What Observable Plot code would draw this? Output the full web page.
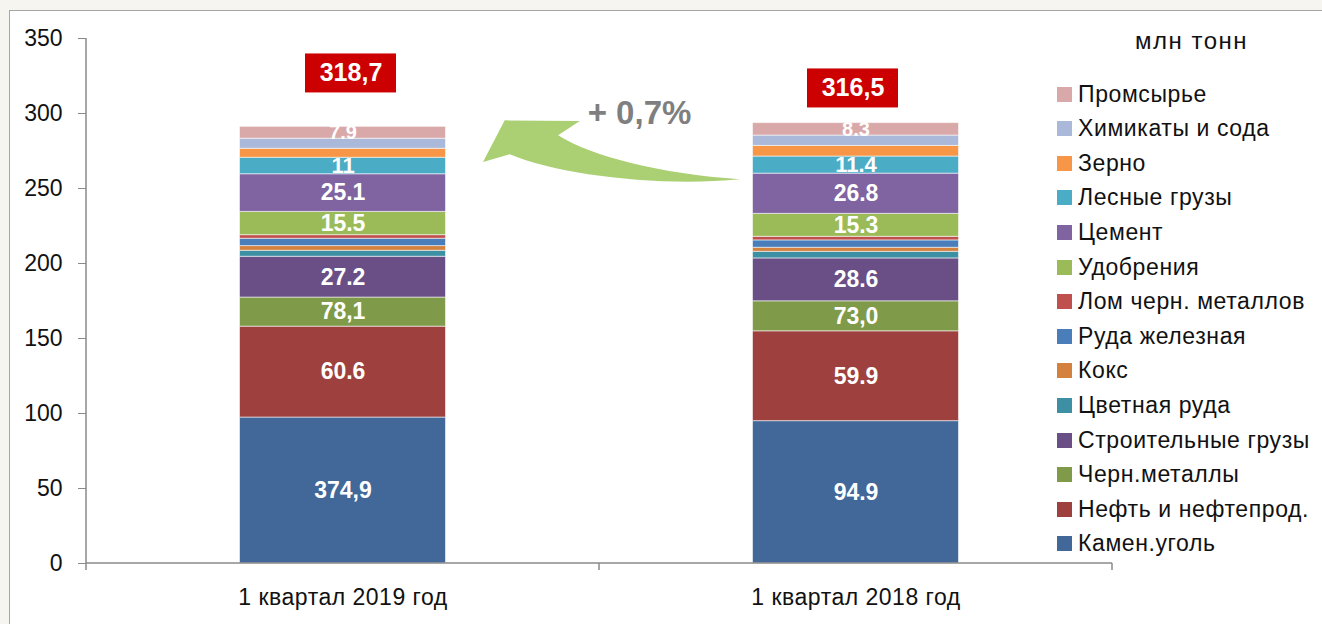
<!DOCTYPE html>
<html>
<head>
<meta charset="utf-8">
<script src="https://cdn.jsdelivr.net/npm/d3@7"></script>
<script src="https://cdn.jsdelivr.net/npm/@observablehq/plot@0.6"></script>
<style>
  html, body { margin: 0; padding: 0; background: #f6f5f0; }
  #wrap { position: relative; width: 1322px; height: 624px; overflow: hidden; font-family: "Liberation Sans", Arial, sans-serif; }
  #panel { position: absolute; left: 9px; top: 10px; width: 1400px; height: 700px; background: #fff; border: 1px solid #a6a6a6; }
  #chart { position: absolute; left: 0; top: 0; }
  #legend { position: absolute; left: 1057px; top: 0; width: 265px; height: 600px; }
  #legend .title { position: absolute; left: 78px; top: 27px; font-size: 24px; letter-spacing: 1.5px; color: #111; white-space: nowrap; }
  #legend .item { position: absolute; left: 0; height: 30px; display: flex; align-items: center; white-space: nowrap; font-size: 23px; letter-spacing: 0.6px; color: #111; }
  #legend .sw { width: 15px; height: 15px; margin-right: 6px; flex: none; }
  #chart svg g[aria-label="x-axis tick label"] text { letter-spacing: 0.5px; }
</style>
</head>
<body>
<div id="wrap">
  <div id="panel"></div>
  <div id="chart"></div>
  <div id="legend"></div>
</div>
<script>
// ---- data ----
const periods = ["1 квартал 2019 год", "1 квартал 2018 год"];
const categories = [
  "Камен.уголь", "Нефть и нефтепрод.", "Черн.металлы", "Строительные грузы",
  "Цветная руда", "Кокс", "Руда железная", "Лом черн. металлов",
  "Удобрения", "Цемент", "Лесные грузы", "Зерно", "Химикаты и сода", "Промсырье"
];
const values2019 = [97.3, 60.6, 19.4, 27.2, 4.0, 3.1, 4.9, 2.4, 15.5, 25.1, 11.0, 6.0, 6.7, 7.9];
const values2018 = [94.9, 59.9, 20.0, 28.6, 4.4, 2.7, 4.9, 2.4, 15.3, 26.8, 11.4, 7.1, 6.9, 8.3];
const labels2019 = ["374,9", "60.6", "78,1", "27.2", "", "", "", "", "15.5", "25.1", "11", "", "", "7.9"];
const labels2018 = ["94.9", "59.9", "73,0", "28.6", "", "", "", "", "15.3", "26.8", "11.4", "", "", "8.3"];
const colors = [
  "#416899", "#9e413e", "#7f9a48", "#6a4f87",
  "#3d8fa3", "#d3813d", "#4a7ebb", "#c0504d",
  "#9bbb59", "#8064a2", "#4bacc6", "#f79646", "#aab9d9", "#d9a9a9"
];
const totals = ["318,7", "316,5"];
const totalsAt = [326.7, 316.7];
const changeLabel = "+ 0,7%";
const changeAt = 300;
const yTicks = [0, 50, 100, 150, 200, 250, 300, 350];
const unitTitle = "млн тонн";

// ---- table ----
const rows = [];
[[values2019, labels2019], [values2018, labels2018]].forEach(([vals, labs], p) => {
  categories.forEach((c, i) => rows.push({period: periods[p], cat: c, value: vals[i], label: labs[i]}));
});
const totalRows = periods.map((p, i) => ({period: p, text: totals[i], y: totalsAt[i]}));

const FONT = "Liberation Sans, Arial, sans-serif";
const W = 1322, H = 624;
const mL = 86, mR = 210, mT = 38, mB = 61;
const bandW = (W - mL - mR) / 2;
const barInset = (bandW - 206) / 2;
const boxInset = (bandW - 91) / 2;

function decor(index, scales, values, dims) {
  const {width, height, marginLeft, marginRight, marginTop, marginBottom} = dims;
  const x0 = marginLeft, x1 = width - marginRight, y0 = height - marginBottom;
  const xm = (x0 + x1) / 2;
  const bw = (x1 - x0) / 2;
  const g = d3.create("svg:g");
  // arrow
  const tipX = x0 + bw / 2 + 103 + 37.5;
  const tailX = xm + bw / 2 - 103 - 12.5;
  const tipY = scales.y(267.3);
  const k = (tailX - tipX) / 256.7;
  const P = (dx, dy) => `${tipX + dx * k},${tipY + dy}`;
  const d = `M${P(0,0)} L${P(21.7,-41.7)} L${P(96.7,-41)} L${P(75,-26.7)} ` +
            `C${P(110,-5)} ${P(176.7,11.7)} ${P(256.7,17.3)} ` +
            `C${P(176.7,25)} ${P(76.7,13.3)} ${P(26.7,-7.7)} Z`;
  g.append("path").attr("d", d).attr("fill", "#abd074");
  // axis lines
  const ax = g.append("g").attr("stroke", "#8a8a8a").attr("stroke-width", 1.5);
  ax.append("line").attr("x1", x0).attr("x2", x0).attr("y1", scales.y(350)).attr("y2", y0 + 7);
  ax.append("line").attr("x1", x0).attr("x2", x1).attr("y1", y0).attr("y2", y0);
  [xm, x1].forEach(x => ax.append("line").attr("x1", x).attr("x2", x).attr("y1", y0).attr("y2", y0 + 7));
  return g.node();
}

const plot = Plot.plot({
  width: W, height: H,
  marginLeft: mL, marginRight: mR, marginTop: mT, marginBottom: mB,
  style: {background: "transparent", fontFamily: FONT},
  x: {domain: periods, padding: 0, label: null},
  y: {domain: [0, 350], label: null},
  color: {domain: categories, range: colors},
  marks: [
    Plot.barY(rows, {x: "period", y: "value", fill: "cat", z: "cat", order: null,
      insetLeft: barInset, insetRight: barInset, stroke: "#ffffff", strokeOpacity: 0.55, strokeWidth: 1}),
    Plot.text(rows, Plot.stackY({x: "period", y: "value", z: "cat", order: null, text: "label",
      fill: "white", fontWeight: "bold", fontFamily: FONT,
      fontSize: d => (d.cat === "Промсырье" ? 20 : d.cat === "Лесные грузы" ? 22 : 23)})),
    decor,
    Plot.rect(totalRows.filter((d, i) => i === 0), {x: "period", y1: d => d.y - 13, y2: d => d.y + 13,
      insetLeft: boxInset, insetRight: boxInset, dx: 8, fill: "#cc0000"}),
    Plot.rect(totalRows.filter((d, i) => i === 1), {x: "period", y1: d => d.y - 13, y2: d => d.y + 13,
      insetLeft: boxInset, insetRight: boxInset, dx: -3, fill: "#cc0000"}),
    Plot.text(totalRows.filter((d, i) => i === 0), {x: "period", y: "y", text: "text", dx: 8,
      fill: "white", fontWeight: "bold", fontSize: 25, fontFamily: FONT}),
    Plot.text(totalRows.filter((d, i) => i === 1), {x: "period", y: "y", text: "text", dx: -3,
      fill: "white", fontWeight: "bold", fontSize: 25, fontFamily: FONT}),
    Plot.text([changeLabel], {x: () => periods[1], y: () => changeAt, text: d => d, dx: -216.5,
      fill: "#7f7f7f", fontWeight: "bold", fontSize: 33, fontFamily: FONT}),
    Plot.axisY({ticks: yTicks, tickSize: 8, tickPadding: 16, stroke: "#8a8a8a", fill: "#111",
      fontSize: 23, fontFamily: FONT, label: null}),
    Plot.axisX({tickSize: 0, tickPadding: 25, fill: "#111", fontSize: 23, fontFamily: FONT, label: null})
  ]
});
document.getElementById("chart").appendChild(plot);

// ---- legend (HTML) ----
const legend = document.getElementById("legend");
const t = document.createElement("div");
t.className = "title"; t.textContent = unitTitle; legend.appendChild(t);
const order = categories.map((c, i) => i).reverse();
order.forEach((ci, row) => {
  const it = document.createElement("div");
  it.className = "item";
  it.style.top = (94 + row * 34.6 - 15) + "px";
  const sw = document.createElement("span");
  sw.className = "sw"; sw.style.background = colors[ci];
  const tx = document.createElement("span");
  tx.textContent = categories[ci];
  it.appendChild(sw); it.appendChild(tx);
  legend.appendChild(it);
});
</script>
</body>
</html>
